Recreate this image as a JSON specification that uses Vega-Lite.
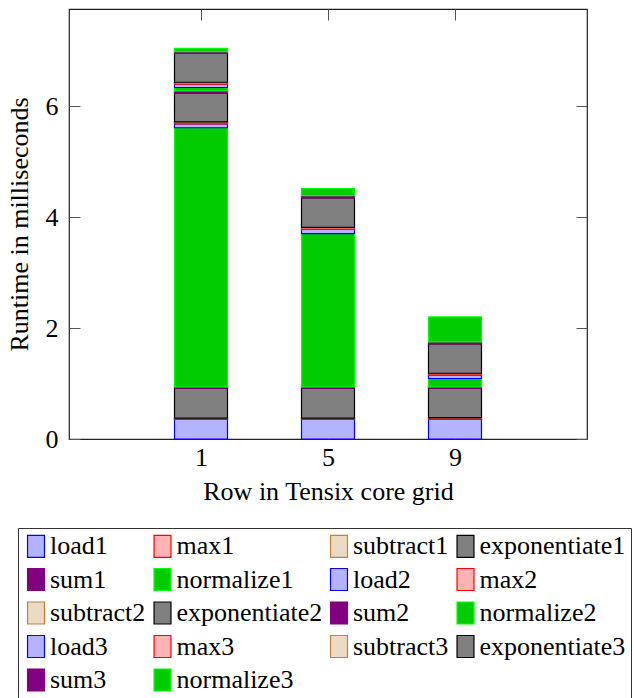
{
  "$schema": "https://vega.github.io/schema/vega-lite/v6.json",
  "width": 518,
  "height": 430,
  "autosize": "none",
  "padding": {"left": 69, "top": 9, "right": 47, "bottom": 259},
  "background": "white",
  "config": {
    "font": "Liberation Serif",
    "view": {"stroke": "#222222", "strokeWidth": 1.2},
    "axis": {
      "domain": false,
      "grid": false,
      "labelFont": "Liberation Serif",
      "labelFontSize": 26,
      "labelColor": "black",
      "titleFont": "Liberation Serif",
      "titleFontSize": 26,
      "titleFontWeight": "normal",
      "titleColor": "black",
      "tickColor": "#555555",
      "tickWidth": 1,
      "tickSize": -11
    },
    "legend": {
      "labelFont": "Liberation Serif",
      "labelFontSize": 26,
      "labelColor": "black"
    }
  },
  "data": {
    "values": [
      {"row": 1, "series": "load1", "ms": 0.36, "k": 1},
      {"row": 1, "series": "max1", "ms": 0.01, "k": 2},
      {"row": 1, "series": "subtract1", "ms": 0.005, "k": 3},
      {"row": 1, "series": "exponentiate1", "ms": 0.54, "k": 4},
      {"row": 1, "series": "sum1", "ms": 0.025, "k": 5},
      {"row": 1, "series": "normalize1", "ms": 4.67, "k": 6},
      {"row": 1, "series": "load2", "ms": 0.07, "k": 7},
      {"row": 1, "series": "max2", "ms": 0.03, "k": 8},
      {"row": 1, "series": "subtract2", "ms": 0.005, "k": 9},
      {"row": 1, "series": "exponentiate2", "ms": 0.52, "k": 10},
      {"row": 1, "series": "sum2", "ms": 0.04, "k": 11},
      {"row": 1, "series": "normalize2", "ms": 0.06, "k": 12},
      {"row": 1, "series": "load3", "ms": 0.06, "k": 13},
      {"row": 1, "series": "max3", "ms": 0.03, "k": 14},
      {"row": 1, "series": "subtract3", "ms": 0.005, "k": 15},
      {"row": 1, "series": "exponentiate3", "ms": 0.52, "k": 16},
      {"row": 1, "series": "sum3", "ms": 0.03, "k": 17},
      {"row": 1, "series": "normalize3", "ms": 0.06, "k": 18},
      {"row": 5, "series": "load1", "ms": 0.36, "k": 1},
      {"row": 5, "series": "max1", "ms": 0.01, "k": 2},
      {"row": 5, "series": "subtract1", "ms": 0.005, "k": 3},
      {"row": 5, "series": "exponentiate1", "ms": 0.54, "k": 4},
      {"row": 5, "series": "sum1", "ms": 0.025, "k": 5},
      {"row": 5, "series": "normalize1", "ms": 2.76, "k": 6},
      {"row": 5, "series": "load2", "ms": 0.08, "k": 7},
      {"row": 5, "series": "max2", "ms": 0.03, "k": 8},
      {"row": 5, "series": "subtract2", "ms": 0.005, "k": 9},
      {"row": 5, "series": "exponentiate2", "ms": 0.53, "k": 10},
      {"row": 5, "series": "sum2", "ms": 0.04, "k": 11},
      {"row": 5, "series": "normalize2", "ms": 0.13, "k": 12},
      {"row": 9, "series": "load1", "ms": 0.36, "k": 1},
      {"row": 9, "series": "max1", "ms": 0.02, "k": 2},
      {"row": 9, "series": "subtract1", "ms": 0.005, "k": 3},
      {"row": 9, "series": "exponentiate1", "ms": 0.53, "k": 4},
      {"row": 9, "series": "sum1", "ms": 0.025, "k": 5},
      {"row": 9, "series": "normalize1", "ms": 0.15, "k": 6},
      {"row": 9, "series": "load2", "ms": 0.06, "k": 7},
      {"row": 9, "series": "max2", "ms": 0.03, "k": 8},
      {"row": 9, "series": "subtract2", "ms": 0.005, "k": 9},
      {"row": 9, "series": "exponentiate2", "ms": 0.53, "k": 10},
      {"row": 9, "series": "sum2", "ms": 0.035, "k": 11},
      {"row": 9, "series": "normalize2", "ms": 0.45, "k": 12}
    ]
  },
  "layer": [
    {
      "mark": {"type": "bar", "width": 53, "strokeWidth": 1.2},
      "encoding": {
        "x": {
          "field": "row", "type": "quantitative",
          "scale": {"domain": [-3, 13], "nice": false, "zero": false},
          "axis": {"orient": "bottom", "values": [1, 5, 9], "format": "d", "title": "Row in Tensix core grid", "labelPadding": 16, "titlePadding": 8}
        },
        "y": {
          "field": "ms", "type": "quantitative", "stack": "zero",
          "scale": {"domain": [0, 7.75], "nice": false},
          "axis": {"orient": "left", "values": [0, 2, 4, 6], "title": "Runtime in milliseconds", "labelPadding": 22, "titlePadding": 13}
        },
        "order": {"field": "k", "type": "quantitative", "sort": "ascending"},
        "fill": {
          "field": "series", "type": "nominal",
          "scale": {
            "domain": ["load1", "max1", "subtract1", "exponentiate1", "sum1", "normalize1", "load2", "max2", "subtract2", "exponentiate2", "sum2", "normalize2", "load3", "max3", "subtract3", "exponentiate3", "sum3", "normalize3"],
            "range": ["#b3b3ff", "#ffb3b3", "#ecd9c6", "#808080", "#800080", "#00cc00", "#b3b3ff", "#ffb3b3", "#ecd9c6", "#808080", "#800080", "#00cc00", "#b3b3ff", "#ffb3b3", "#ecd9c6", "#808080", "#800080", "#00cc00"]
          },
          "legend": {
            "title": null,
            "orient": "none",
            "legendX": -51,
            "legendY": 519,
            "direction": "horizontal",
            "columns": 4,
            "columnPadding": 3.5,
            "rowPadding": 5.5,
            "padding": 5,
            "strokeColor": "#333333",
            "fillColor": "white",
            "symbolType": "M-0.77,-1H0.77V1H-0.77Z",
            "symbolSize": 484,
            "symbolStrokeWidth": 1.2,
            "symbolOpacity": 1,
            "labelOffset": 1,
            "labelLimit": 300
          }
        },
        "stroke": {
          "field": "series", "type": "nominal",
          "scale": {
            "domain": ["load1", "max1", "subtract1", "exponentiate1", "sum1", "normalize1", "load2", "max2", "subtract2", "exponentiate2", "sum2", "normalize2", "load3", "max3", "subtract3", "exponentiate3", "sum3", "normalize3"],
            "range": ["#0000ff", "#ff0000", "#bf8040", "#000000", "#800080", "#00ff00", "#0000ff", "#ff0000", "#bf8040", "#000000", "#800080", "#00ff00", "#0000ff", "#ff0000", "#bf8040", "#000000", "#800080", "#00ff00"]
          },
          "legend": {
            "title": null,
            "orient": "none",
            "legendX": -51,
            "legendY": 519,
            "direction": "horizontal",
            "columns": 4,
            "columnPadding": 3.5,
            "rowPadding": 5.5,
            "padding": 5,
            "strokeColor": "#333333",
            "fillColor": "white",
            "symbolType": "M-0.77,-1H0.77V1H-0.77Z",
            "symbolSize": 484,
            "symbolStrokeWidth": 1.2,
            "symbolOpacity": 1,
            "labelOffset": 1,
            "labelLimit": 300
          }
        }
      }
    },
    {
      "mark": {"type": "bar", "width": 53, "opacity": 0},
      "encoding": {
        "x": {"field": "row", "type": "quantitative", "axis": {"orient": "top", "values": [1, 5, 9], "labels": false, "title": null}},
        "y": {"field": "ms", "type": "quantitative", "stack": "zero", "axis": {"orient": "right", "values": [0, 2, 4, 6], "labels": false, "title": null}},
        "order": {"field": "k", "type": "quantitative"}
      }
    }
  ],
  "resolve": {"axis": {"x": "independent", "y": "independent"}}
}
